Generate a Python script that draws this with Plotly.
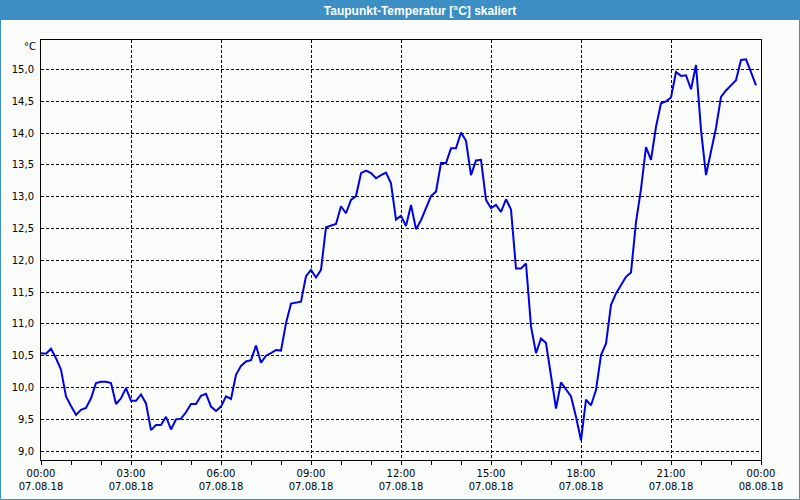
import plotly.graph_objects as go
import pandas as pd

# ---------------- data ----------------
START = "2018-08-07 00:00"
STEP = "10min"
X_START = "2018-08-07 00:00"
X_END = "2018-08-08 00:00"

dew_point = [
    10.54, 10.53, 10.61, 10.46, 10.28, 9.86, 9.71, 9.57, 9.65, 9.68,
    9.83, 10.07, 10.09, 10.09, 10.07, 9.74, 9.83, 9.99, 9.79, 9.79,
    9.89, 9.75, 9.33, 9.41, 9.41, 9.54, 9.34, 9.50, 9.51, 9.61,
    9.74, 9.74, 9.87, 9.90, 9.70, 9.63, 9.70, 9.86, 9.82, 10.20,
    10.34, 10.41, 10.43, 10.66, 10.39, 10.50, 10.54, 10.59, 10.58, 11.01,
    11.32, 11.34, 11.35, 11.75, 11.85, 11.73, 11.85, 12.52, 12.55, 12.57,
    12.85, 12.74, 12.95, 13.01, 13.37, 13.41, 13.37, 13.29, 13.34, 13.38,
    13.21, 12.64, 12.70, 12.54, 12.87, 12.49, 12.63, 12.83, 13.01, 13.08,
    13.53, 13.53, 13.76, 13.76, 14.01, 13.88, 13.34, 13.57, 13.58, 12.95,
    12.82, 12.87, 12.76, 12.96, 12.80, 11.87, 11.87, 11.95, 10.96, 10.54,
    10.77, 10.70, 10.22, 9.67, 10.08, 9.96, 9.86, 9.54, 9.17, 9.81,
    9.72, 9.96, 10.51, 10.69, 11.30, 11.48, 11.61, 11.74, 11.81, 12.60,
    13.12, 13.78, 13.58, 14.10, 14.47, 14.50, 14.56, 14.96, 14.90, 14.91,
    14.69, 15.07, 14.05, 13.34, 13.71, 14.08, 14.57, 14.67, 14.75, 14.83,
    15.15, 15.16, 14.96, 14.75,
]
times = pd.date_range(START, periods=len(dew_point), freq=STEP)

Y_RANGE = [8.86, 15.464]
Y_TICK0 = 9.0
Y_DTICK = 0.5
TITLE = "Taupunkt-Temperatur [°C] skaliert"
UNIT = "°C"

# ---------------- style ----------------
W, H = 800, 500
ML, MR, MT, MB = 41, 39, 40, 40
PW, PH = W - ML - MR, H - MT - MB
BAR_H = 20
BAR_COLOR = "#3b8fc4"
BG = "#fafcfa"
LINE_COLOR = "#0000e6"
FONT = "DejaVu Sans"


def px_x(p):
    return (p - ML) / PW


def px_y(p):
    return (H - MB - p) / PH


fig = go.Figure()
fig.add_trace(go.Scatter(
    x=times, y=dew_point, mode="lines",
    line=dict(color=LINE_COLOR, width=2),
    hoverinfo="skip", showlegend=False,
))

grid = dict(showgrid=True, gridcolor="black", gridwidth=1, griddash="3px,2px")

fig.update_layout(
    width=W, height=H,
    margin=dict(l=ML, r=MR, t=MT, b=MB, pad=0, autoexpand=False),
    paper_bgcolor=BG, plot_bgcolor=BG,
    separators=",.",
    font=dict(family=FONT, size=10, color="black"),
    title=dict(
        text=TITLE, xref="container", yref="container",
        x=420 / W, y=1 - 10.5 / H, xanchor="center", yanchor="middle",
        font=dict(family="Liberation Sans", size=12, color="white", weight="bold"),
    ),
    xaxis=dict(
        type="date", range=[X_START, X_END],
        dtick=3 * 3600 * 1000, tick0=X_START,
        tickformat="%H:%M<br>%d.%m.%y",
        ticks="outside", ticklen=4, tickcolor="black",
        minor=dict(dtick=3600 * 1000, ticks="outside", ticklen=4, tickcolor="black", showgrid=False),
        showline=True, linecolor="black", linewidth=1, mirror=True,
        zeroline=False, fixedrange=True, automargin=False,
        tickfont=dict(family=FONT, size=10, color="black"),
        **grid,
    ),
    yaxis=dict(
        range=Y_RANGE, tick0=Y_TICK0, dtick=Y_DTICK, tickformat=".1f",
        ticks="", showline=True, linecolor="black", linewidth=1, mirror=True,
        zeroline=False, fixedrange=True, ticklabelstandoff=4, automargin=False,
        tickfont=dict(family=FONT, size=10, color="black"),
        **grid,
    ),
    shapes=[
        dict(type="rect", xref="paper", yref="paper",
             x0=px_x(0), x1=px_x(W), y0=px_y(BAR_H), y1=px_y(0),
             fillcolor=BAR_COLOR, line=dict(width=0)),
        dict(type="rect", xref="paper", yref="paper",
             x0=px_x(0.5), x1=px_x(W - 0.5), y0=px_y(H - 0.5), y1=px_y(0.5),
             fillcolor="rgba(0,0,0,0)", line=dict(color=BAR_COLOR, width=1)),
    ],
    annotations=[
        dict(text=UNIT, xref="paper", yref="paper", x=0, y=1,
             xanchor="right", yanchor="middle", xshift=-3, yshift=-6,
             showarrow=False, font=dict(family=FONT, size=10, color="black")),
    ],
)

fig.write_html(
    "out.html",
    config={"displayModeBar": False},
    post_script="document.body.style.margin='0';document.body.style.overflow='hidden';",
)
